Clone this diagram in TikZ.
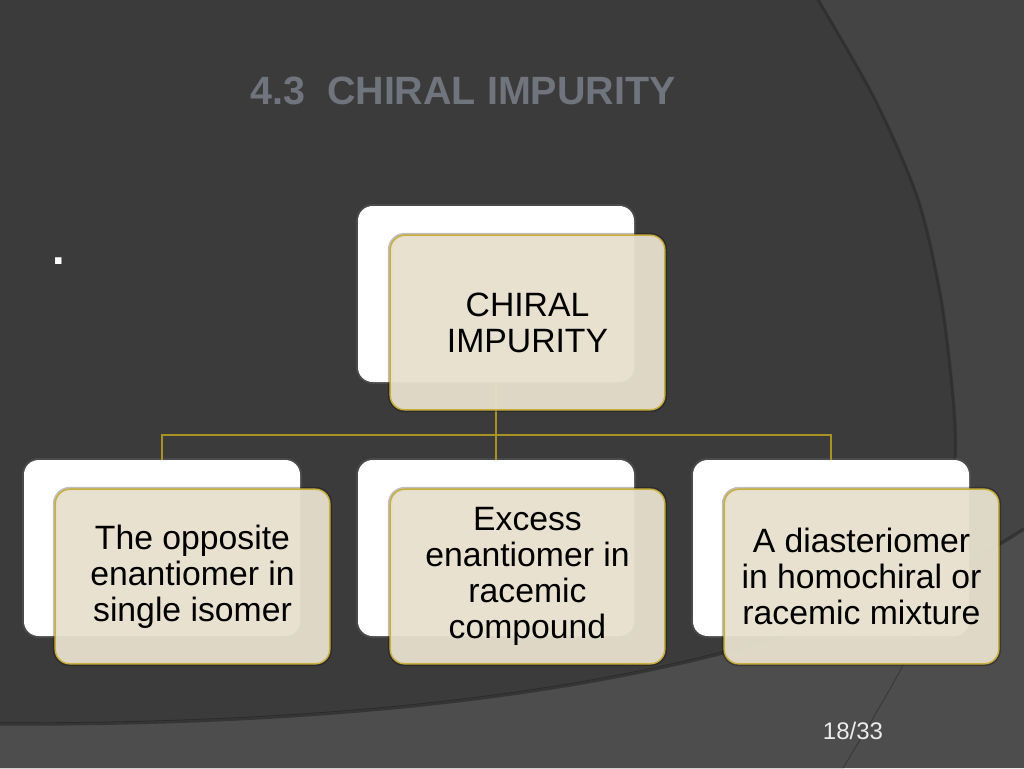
\documentclass[tikz,border=0pt]{standalone}
\usepackage{fontspec}
\setmainfont{Liberation Sans}
\usetikzlibrary{calc}
\definecolor{bgbase}{HTML}{444444}
\definecolor{bgdark}{HTML}{3B3B3B}
\definecolor{bglight}{HTML}{4D4D4D}
\definecolor{beige}{HTML}{E7E0CE}
\definecolor{goldline}{HTML}{C8AE3C}
\definecolor{conncol}{HTML}{A89224}
\definecolor{titlecol}{HTML}{6F747D}
\tikzset{
  backbox/.style={rectangle, rounded corners=11pt, fill=white, minimum width=207pt, minimum height=132pt, inner sep=0pt,
    preaction={draw=gray!70!black, line width=3pt, opacity=0.5}},
  frontbox/.style={rectangle, rounded corners=11pt, fill=beige, fill opacity=0.95, text opacity=1, draw=goldline, line width=1.1pt,
    minimum width=206pt, minimum height=131pt, inner sep=0pt, align=center, text=black,
    font={\fontsize{25.3}{27}\selectfont},
    preaction={draw=black, line width=3.5pt, opacity=0.25}},
  conn/.style={draw=conncol, line width=1.4pt}
}
\begin{document}
\begin{tikzpicture}[x=0.75pt,y=-0.75pt]
\useasboundingbox (0,0) rectangle (1024,768);
% background
\fill[bgbase] (0,0) rectangle (1024,768);
\fill[bgdark] (0,0) -- plot[smooth] coordinates {(820,0) (877,100) (920,200) (943,300) (955,400) (957,460) (950,560) (902,667) (843,768)} -- (0,768) -- cycle;
\draw[black, opacity=0.18, line width=2pt] plot[smooth] coordinates {(818,0) (875,100) (918,200) (941,300) (953,400) (955,460) (948,560)};
\fill[bglight] (0,723) .. controls (550,725) and (850,640) .. (1024,528) -- (1024,768) -- (0,768) -- cycle;
\draw[black, opacity=0.3, line width=2.5pt] (0,724) .. controls (550,726) and (850,641) .. (1024,529);
\draw[bgdark!80!black, opacity=0.6, line width=0.8pt] plot[smooth] coordinates {(950,560) (902,667) (843,768)};
% title, bullet, page number
\node[anchor=base west, inner sep=0pt, text=titlecol, font={\fontsize{29.6}{30}\selectfont\bfseries}] (title) at (250,104) {4.3\ \ CHIRAL IMPURITY};
\node[anchor=base, inner sep=0pt, text=white, font={\fontsize{34}{34}\selectfont\bfseries}] (dot) at (59,264) {.};
\node[anchor=base, inner sep=0pt, text=white!92!black, font={\fontsize{18}{18}\selectfont}] (page) at (853,739) {18/33};
% back boxes
\node[backbox] (wTop) at (496,294) {};
\node[backbox] (wL) at (162,548) {};
\node[backbox] (wM) at (496,548) {};
\node[backbox] (wR) at (831,548) {};
% connectors
\coordinate (bus) at (496,435);
\draw[conn] (wTop.south) -- (bus);
\draw[conn] (bus) -| (wL.north);
\draw[conn] (bus) -| (wR.north);
\draw[conn] (bus) -- (wM.north);
% front boxes
\node[frontbox] (bTop) at (527.5,322.5) {CHIRAL\\IMPURITY};
\node[frontbox] (bL) at (192.5,576.5) {The opposite\\enantiomer in\\single isomer};
\node[frontbox] (bM) at (527.5,576.5) {Excess\\enantiomer in\\racemic\\compound};
\node[frontbox] (bR) at (861.5,576.5) {A diasteriomer\\in homochiral or\\racemic mixture};
\end{tikzpicture}
\end{document}
